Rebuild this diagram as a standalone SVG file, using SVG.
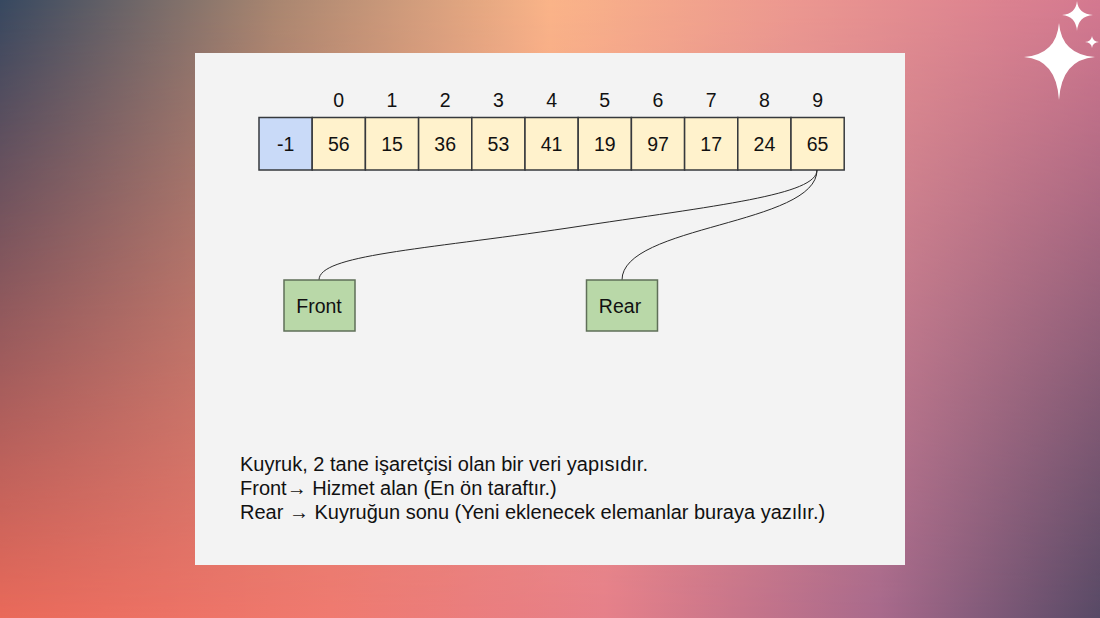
<svg xmlns="http://www.w3.org/2000/svg" width="1100" height="618" viewBox="0 0 1100 618">
<defs>
<linearGradient id="bot" x1="0" y1="0" x2="1" y2="0">
<stop offset="0" stop-color="#ea6a5a"/>
<stop offset="0.3" stop-color="#f07a70"/>
<stop offset="0.55" stop-color="#e6808a"/>
<stop offset="0.8" stop-color="#a86a8c"/>
<stop offset="1" stop-color="#584a66"/>
</linearGradient>
<linearGradient id="top" x1="0" y1="0" x2="1" y2="0">
<stop offset="0" stop-color="#364860"/>
<stop offset="0.25" stop-color="#a88670"/>
<stop offset="0.5" stop-color="#fab488"/>
<stop offset="0.72" stop-color="#ec9890"/>
<stop offset="1" stop-color="#d47890"/>
</linearGradient>
<linearGradient id="fade" x1="0" y1="0" x2="0" y2="1">
<stop offset="0" stop-color="#fff"/>
<stop offset="1" stop-color="#000"/>
</linearGradient>
<mask id="m"><rect width="1100" height="618" fill="url(#fade)"/></mask>
<style>
.cell{stroke:#36393d;stroke-width:1.5}
.val{fill:#fff2cc}
.t{font-family:"Liberation Sans",Arial,sans-serif;font-size:19.5px;fill:#111}
.n{font-family:"Liberation Sans",Arial,sans-serif;font-size:20px;fill:#111}
.c{text-anchor:middle}
.ptr{fill:#b9d8a8;stroke:#5f6f58;stroke-width:1.5}
.edge{fill:none;stroke:#2a2a2a;stroke-width:1}
</style>
</defs>
<rect width="1100" height="618" fill="url(#bot)"/>
<rect width="1100" height="618" fill="url(#top)" mask="url(#m)"/>
<g id="stars" fill="#fff">
<path d="M1059,23 Q1061.5,54.5 1095,57 Q1061.5,59.5 1059,100 Q1056.5,59.5 1024,57 Q1056.5,54.5 1059,23 Z"/>
<path d="M1077,1 Q1078.2,13.8 1093,15 Q1078.2,16.2 1077,31 Q1075.8,16.2 1062,15 Q1075.8,13.8 1077,1 Z"/>
<path d="M1092,36 Q1092.6,41.4 1099,42 Q1092.6,42.6 1092,48 Q1091.4,42.6 1085,42 Q1091.4,41.4 1092,36 Z"/>
</g>
<rect x="195" y="53" width="710" height="512" fill="#f3f3f3"/>
<g id="array">
<rect class="cell" x="259" y="117.5" width="53.2" height="52.5" fill="#c9daf8"/>
<text class="t c" x="285.6" y="151">-1</text>
<g id="c0"><rect class="cell val" x="312.2" y="117.5" width="53.2" height="52.5"/><text class="t c" x="338.8" y="151">56</text><text class="t c" x="338.8" y="107">0</text></g>
<g id="c1"><rect class="cell val" x="365.4" y="117.5" width="53.2" height="52.5"/><text class="t c" x="392" y="151">15</text><text class="t c" x="392" y="107">1</text></g>
<g id="c2"><rect class="cell val" x="418.6" y="117.5" width="53.2" height="52.5"/><text class="t c" x="445.2" y="151">36</text><text class="t c" x="445.2" y="107">2</text></g>
<g id="c3"><rect class="cell val" x="471.8" y="117.5" width="53.2" height="52.5"/><text class="t c" x="498.4" y="151">53</text><text class="t c" x="498.4" y="107">3</text></g>
<g id="c4"><rect class="cell val" x="525" y="117.5" width="53.2" height="52.5"/><text class="t c" x="551.6" y="151">41</text><text class="t c" x="551.6" y="107">4</text></g>
<g id="c5"><rect class="cell val" x="578.2" y="117.5" width="53.2" height="52.5"/><text class="t c" x="604.8" y="151">19</text><text class="t c" x="604.8" y="107">5</text></g>
<g id="c6"><rect class="cell val" x="631.4" y="117.5" width="53.2" height="52.5"/><text class="t c" x="658" y="151">97</text><text class="t c" x="658" y="107">6</text></g>
<g id="c7"><rect class="cell val" x="684.6" y="117.5" width="53.2" height="52.5"/><text class="t c" x="711.2" y="151">17</text><text class="t c" x="711.2" y="107">7</text></g>
<g id="c8"><rect class="cell val" x="737.8" y="117.5" width="53.2" height="52.5"/><text class="t c" x="764.4" y="151">24</text><text class="t c" x="764.4" y="107">8</text></g>
<g id="c9"><rect class="cell val" x="791" y="117.5" width="53.2" height="52.5"/><text class="t c" x="817.6" y="151">65</text><text class="t c" x="817.6" y="107">9</text></g>
</g>
<g id="connectors">
<path class="edge" d="M817,170 C817,195 720,205 568,228 C420,250 319,255 319,280"/>
<path class="edge" d="M817,170 C817,225 622,225 622,280"/>
</g>
<g id="front"><rect class="ptr" x="284" y="280" width="71" height="51"/><text class="t c" x="319" y="312.5">Front</text></g>
<g id="rear"><rect class="ptr" x="586.5" y="280" width="71" height="51"/><text class="t c" x="620" y="312.5">Rear</text></g>
<g id="notes">
<text class="n" x="240" y="471">Kuyruk, 2 tane işaretçisi olan bir veri yapısıdır.</text>
<text class="n" x="240" y="495">Front→ Hizmet alan (En ön taraftır.)</text>
<text class="n" x="240" y="519">Rear → Kuyruğun sonu (Yeni eklenecek elemanlar buraya yazılır.)</text>
</g>
</svg>
